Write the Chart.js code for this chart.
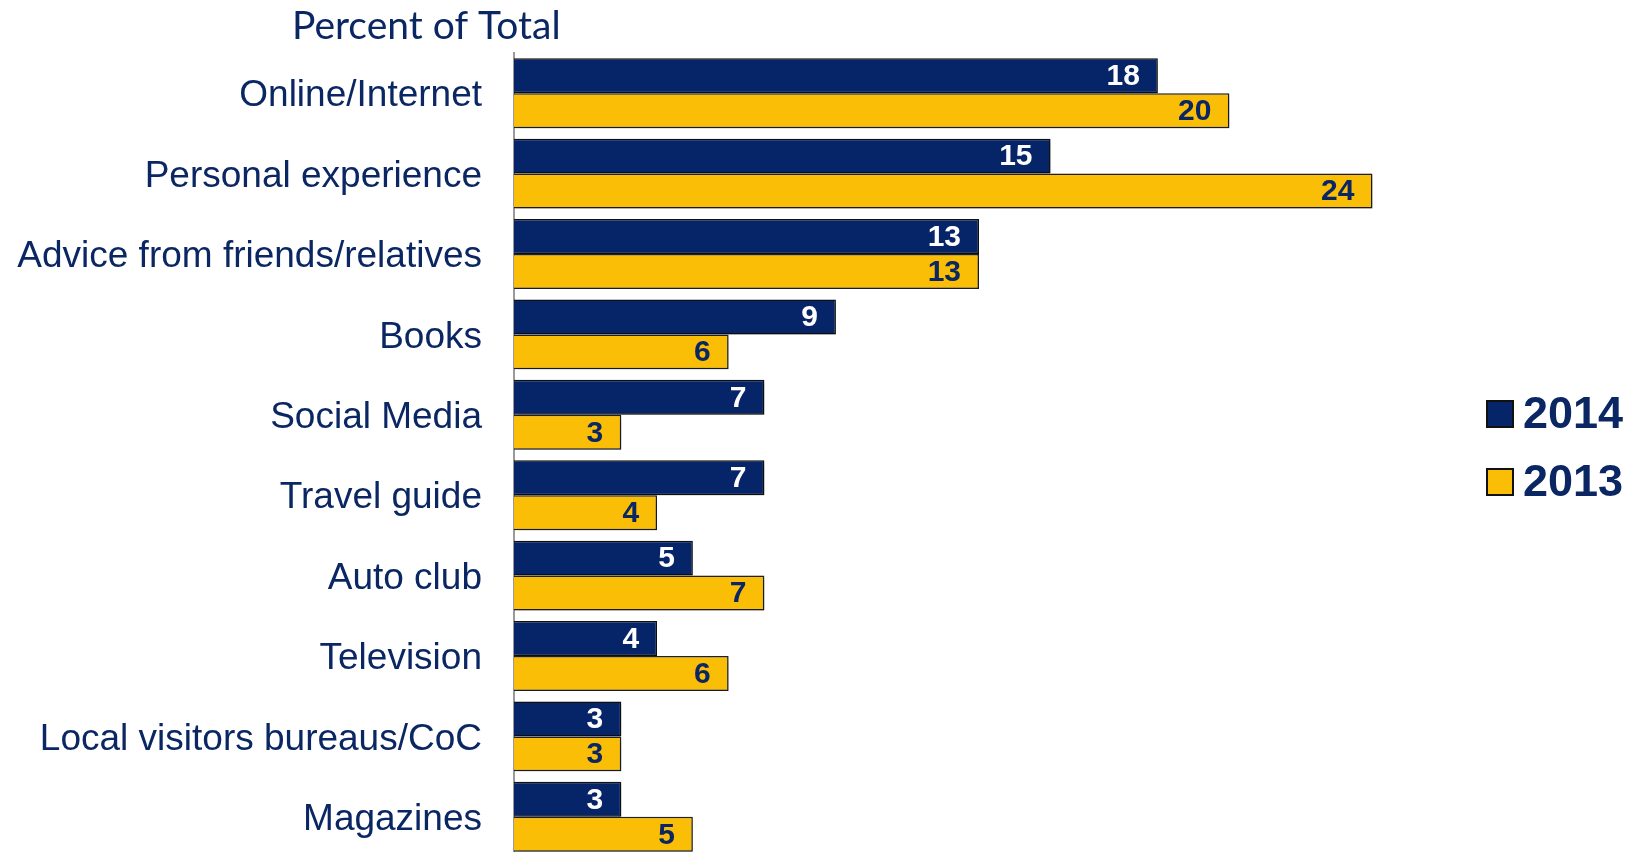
<!DOCTYPE html>
<html>
<head>
<meta charset="utf-8">
<script src="https://cdn.jsdelivr.net/npm/chart.js@4.4.1/dist/chart.umd.min.js"></script>
<style>
  html, body { margin: 0; padding: 0; background: #fff; overflow: hidden; }
  canvas { display: block; }
</style>
</head>
<body>
<canvas id="sourcesChart" width="1643" height="857"></canvas>
<script>
// Sources of travel information, percent of total
const categories = [
  'Online/Internet',
  'Personal experience',
  'Advice from friends/relatives',
  'Books',
  'Social Media',
  'Travel guide',
  'Auto club',
  'Television',
  'Local visitors bureaus/CoC',
  'Magazines'
];
const values2014 = [18, 15, 13, 9, 7, 7, 5, 4, 3, 3];
const values2013 = [20, 24, 13, 6, 3, 4, 7, 6, 3, 5];
const seriesLabels = ['2014', '2013'];

const NAVY = '#062568';
const GOLD = '#f9be05';
const TEXT = '#0b2763';

// soft drop shadow under the bars
const barShadow = {
  id: 'barShadow',
  beforeDatasetsDraw(chart) {
    const ctx = chart.ctx;
    ctx.save();
    ctx.shadowColor = 'rgba(0,0,0,0.35)';
    ctx.shadowBlur = 5;
    ctx.shadowOffsetX = 2;
    ctx.shadowOffsetY = 2;
  },
  afterDatasetsDraw(chart) {
    chart.ctx.restore();
  }
};

// value written inside the end of each bar
const barValues = {
  id: 'barValues',
  afterDatasetsDraw(chart) {
    const ctx = chart.ctx;
    ctx.save();
    ctx.font = 'bold 30px "Liberation Sans", Arial, sans-serif';
    ctx.textAlign = 'right';
    ctx.textBaseline = 'middle';
    chart.data.datasets.forEach((ds, i) => {
      ctx.fillStyle = i === 0 ? '#ffffff' : TEXT;
      chart.getDatasetMeta(i).data.forEach((bar, j) => {
        ctx.fillText(ds.data[j], bar.x - 18, bar.y + 1);
      });
    });
    ctx.restore();
  }
};

// heading above the category labels
const heading = {
  id: 'heading',
  afterDraw(chart) {
    const ctx = chart.ctx;
    ctx.save();
    ctx.font = '39px Lato, "Open Sans", sans-serif';
    ctx.fillStyle = TEXT;
    ctx.textAlign = 'left';
    ctx.textBaseline = 'middle';
    ctx.fillText('Percent of Total', chart.chartArea.left - 222, 26);
    ctx.restore();
  }
};

// legend at the right side, boxes and year labels
const sideLegend = {
  id: 'sideLegend',
  afterDraw(chart) {
    const ctx = chart.ctx;
    const x = chart.chartArea.right + 43;
    const y0 = 414;
    ctx.save();
    ctx.font = 'bold 45px "Liberation Sans", Arial, sans-serif';
    ctx.textAlign = 'left';
    ctx.textBaseline = 'middle';
    chart.data.datasets.forEach((ds, i) => {
      const y = y0 + i * 68;
      ctx.fillStyle = ds.backgroundColor;
      ctx.fillRect(x, y - 13, 26, 26);
      ctx.lineWidth = 2;
      ctx.strokeStyle = '#111';
      ctx.strokeRect(x, y - 13, 26, 26);
      ctx.fillStyle = TEXT;
      ctx.fillText(ds.label, x + 36, y + 2);
    });
    ctx.restore();
  }
};

const ctx = document.getElementById('sourcesChart').getContext('2d');
const sourcesChart = new Chart(ctx, {
  type: 'bar',
  data: {
    labels: categories,
    datasets: [
      {
        label: seriesLabels[0],
        data: values2014,
        backgroundColor: NAVY,
        borderColor: '#111111',
        borderWidth: 1.5
      },
      {
        label: seriesLabels[1],
        data: values2013,
        backgroundColor: GOLD,
        borderColor: '#222222',
        borderWidth: 1.5
      }
    ]
  },
  options: {
    indexAxis: 'y',
    responsive: false,
    animation: false,
    categoryPercentage: 0.87,
    barPercentage: 1.0,
    layout: {
      padding: { top: 53, right: 199, bottom: 0, left: 0 }
    },
    scales: {
      x: {
        display: false,
        min: 0,
        max: 26
      },
      y: {
        grid: { display: false, drawTicks: false },
        border: { display: true, color: '#9a9a9a', width: 2 },
        afterFit(scale) {
          scale.width = 514;
          scale.paddingTop = 0;
          scale.paddingBottom = 0;
        },
        ticks: {
          padding: 32,
          labelOffset: 3,
          color: TEXT,
          font: { family: '"Liberation Sans", Arial, sans-serif', size: 37 }
        }
      }
    },
    plugins: {
      legend: { display: false },
      tooltip: { enabled: false }
    }
  },
  plugins: [barShadow, barValues, heading, sideLegend]
});
</script>
</body>
</html>
